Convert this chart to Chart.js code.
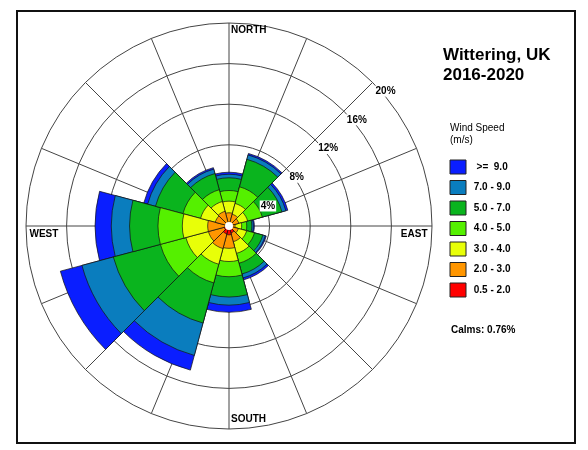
<!DOCTYPE html>
<html>
<head>
<meta charset="utf-8">
<script src="https://cdn.jsdelivr.net/npm/chart.js@4.4.1/dist/chart.umd.min.js"></script>
<style>
  body { margin: 0; background: #fff; }
  .wrap { position: relative; width: 588px; height: 450px; }
  .frame { position: absolute; left: 16px; top: 10px; width: 560px; height: 434px; border: 2px solid #111; box-sizing: border-box; }
  canvas { position: absolute; left: 0; top: 0; }
</style>
</head>
<body>
<div class="wrap">
  <div class="frame"></div>
  <canvas id="rose" width="588" height="450"></canvas>
</div>
<script>
// wind direction sectors, 30 degrees each, clockwise from north
const sectors = ['N', '030', '060', 'E', '120', '150', 'S', '210', '240', 'W', '300', '330'];

// frequency (%) of each speed class in each sector
const speed05to2 = [0.3, 0.3, 0.2, 0.1, 0.15, 0.7, 0.87, 0.8, 0.5, 0.3, 0.2, 0.2];
const speed2to3  = [1.0, 0.9, 0.8, 0.5, 0.8, 0.9, 1.33, 1.5, 1.6, 1.8, 1.2, 1.3];
const speed3to4  = [1.15, 1.1, 0.9, 0.65, 0.85, 1.2, 1.3, 1.6, 2.3, 2.5, 1.5, 1.0];
const speed4to5  = [1.05, 1.7, 1.5, 0.5, 0.8, 1.0, 1.5, 1.9, 2.6, 2.4, 1.8, 1.2];
const speed5to7  = [1.25, 2.8, 2.0, 0.5, 0.85, 1.1, 2.0, 4.1, 4.8, 2.8, 2.8, 1.65];
const speed7to9  = [0.35, 0.45, 0.4, 0.15, 0.25, 0.4, 0.8, 3.3, 3.2, 1.8, 0.8, 0.45];
const speed9plus = [0.2, 0.15, 0.2, 0.1, 0.1, 0.2, 0.7, 1.5, 2.2, 1.6, 0.4, 0.15];

const speedLabels = ['0.5 - 2.0', '2.0 - 3.0', '3.0 - 4.0', '4.0 - 5.0', '5.0 - 7.0', '7.0 - 9.0', '>=  9.0'];
const speedColors = ['#ff0000', '#ff9600', '#e8ff08', '#55f000', '#0ab41e', '#0a7dbe', '#0a1eff'];

const ringTicks = [4, 8, 12, 16, 20];
const gridDirections = ['N', 'NNE', 'NE', 'ENE', 'E', 'ESE', 'SE', 'SSE', 'S', 'SSW', 'SW', 'WSW', 'W', 'WNW', 'NW', 'NNW'];
const calms = 0.76;

const FONT = "'Liberation Sans', Arial, sans-serif";
Chart.defaults.font.family = FONT;
Chart.defaults.color = '#000';

// stack the classes: each ring is drawn out to the running total
const classes = [speed05to2, speed2to3, speed3to4, speed4to5, speed5to7, speed7to9, speed9plus];
let running = sectors.map(() => 0);
const datasets = classes.map((vals, i) => {
  running = running.map((v, j) => +(v + vals[j]).toFixed(2));
  return {
    label: speedLabels[i],
    data: running,
    backgroundColor: speedColors[i],
    borderColor: 'rgba(20,20,20,0.9)',
    borderWidth: 0.8,
    rAxisID: 'r'
  };
});

const legendText = (label) => (label.startsWith('>') ? '  ' : ' ') + label;

// legend sits right of the rose; work out its width so the rose keeps its place
const canvas = document.getElementById('rose');
const mctx = canvas.getContext('2d');
mctx.font = 'bold 10px ' + FONT;
const widest = Math.max(...speedLabels.map(l => mctx.measureText(legendText(l)).width));
const legendWidth = 6.5 + 16 + 5 + widest + 10;
const roseRight = 443.5;

const roseText = {
  id: 'roseText',
  afterDatasetsDraw(chart) {
    const s = chart.scales.r;
    const ctx = chart.ctx;
    const cx = s.xCenter, cy = s.yCenter, R = s.drawingArea;
    ctx.save();

    // calm circle in the middle
    ctx.fillStyle = '#fff';
    ctx.beginPath();
    ctx.arc(cx, cy, 4, 0, Math.PI * 2);
    ctx.fill();

    ctx.font = 'bold 10px ' + FONT;
    ctx.textBaseline = 'middle';
    ctx.textAlign = 'left';

    // ring percentages along the north-east diagonal
    ringTicks.forEach(v => {
      const d = s.getDistanceFromCenterForValue(v) * Math.SQRT1_2;
      const x = cx + d + 3, y = cy - d + 8.7;
      const t = v + '%';
      const w = ctx.measureText(t).width;
      ctx.fillStyle = '#fff';
      ctx.fillRect(x - 1, y - 5.5, w + 2, 11);
      ctx.fillStyle = '#000';
      ctx.fillText(t, x, y);
    });

    // compass words
    ctx.fillText('NORTH', cx + 2, cy - R + 7.5);
    ctx.fillText('SOUTH', cx + 2, cy + R - 9.5);
    ctx.fillText('WEST', cx - R + 3.5, cy + 8.5);
    ctx.textAlign = 'right';
    ctx.fillText('EAST', cx + R - 4.5, cy + 8.5);

    // title and side notes
    ctx.textAlign = 'left';
    ctx.textBaseline = 'alphabetic';
    ctx.font = 'bold 17px ' + FONT;
    ctx.fillText('Wittering, UK', 443, 60);
    ctx.fillText('2016-2020', 443, 80);

    ctx.textBaseline = 'middle';
    ctx.font = '10px ' + FONT;
    ctx.fillText('Wind Speed', 450, 128);
    ctx.fillText('(m/s)', 450, 140);

    ctx.font = 'bold 10px ' + FONT;
    ctx.fillText('Calms: ' + calms + '%', 451, 330);
    ctx.restore();
  }
};

new Chart(canvas, {
  type: 'polarArea',
  data: {
    labels: sectors,
    datasets: datasets
  },
  options: {
    responsive: false,
    animation: false,
    layout: { padding: { left: 14.5, right: 588 - roseRight - legendWidth, top: 23, bottom: 21 } },
    scales: {
      r: {
        min: 0,
        max: 20,
        startAngle: -15,
        ticks: { display: false, stepSize: 4 },
        grid: { circular: true, color: '#444', lineWidth: 1 },
        angleLines: { display: false },
        pointLabels: { display: false }
      },
      // 16-point direction grid lines, independent of the 12 sectors
      dirs: {
        type: 'radialLinear',
        axis: 'r',
        labels: gridDirections,
        min: 0,
        max: 1,
        startAngle: 0,
        ticks: { display: false },
        grid: { display: false },
        angleLines: { display: true, color: '#444', lineWidth: 1 },
        pointLabels: { display: false }
      }
    },
    plugins: {
      tooltip: { enabled: false },
      legend: {
        position: 'right',
        align: 'center',
        title: { display: true, text: '', font: { size: 5, lineHeight: 1 }, padding: 0 },
        labels: {
          boxWidth: 16,
          boxHeight: 14,
          padding: 6.5,
          color: '#000',
          font: { size: 10, weight: 'bold' },
          generateLabels: (chart) => chart.data.datasets.map((ds, i) => ({
            text: legendText(ds.label),
            fillStyle: ds.backgroundColor,
            strokeStyle: '#222',
            lineWidth: 1,
            hidden: false,
            datasetIndex: i
          })).reverse()
        }
      }
    }
  },
  plugins: [roseText]
});
</script>
</body>
</html>
